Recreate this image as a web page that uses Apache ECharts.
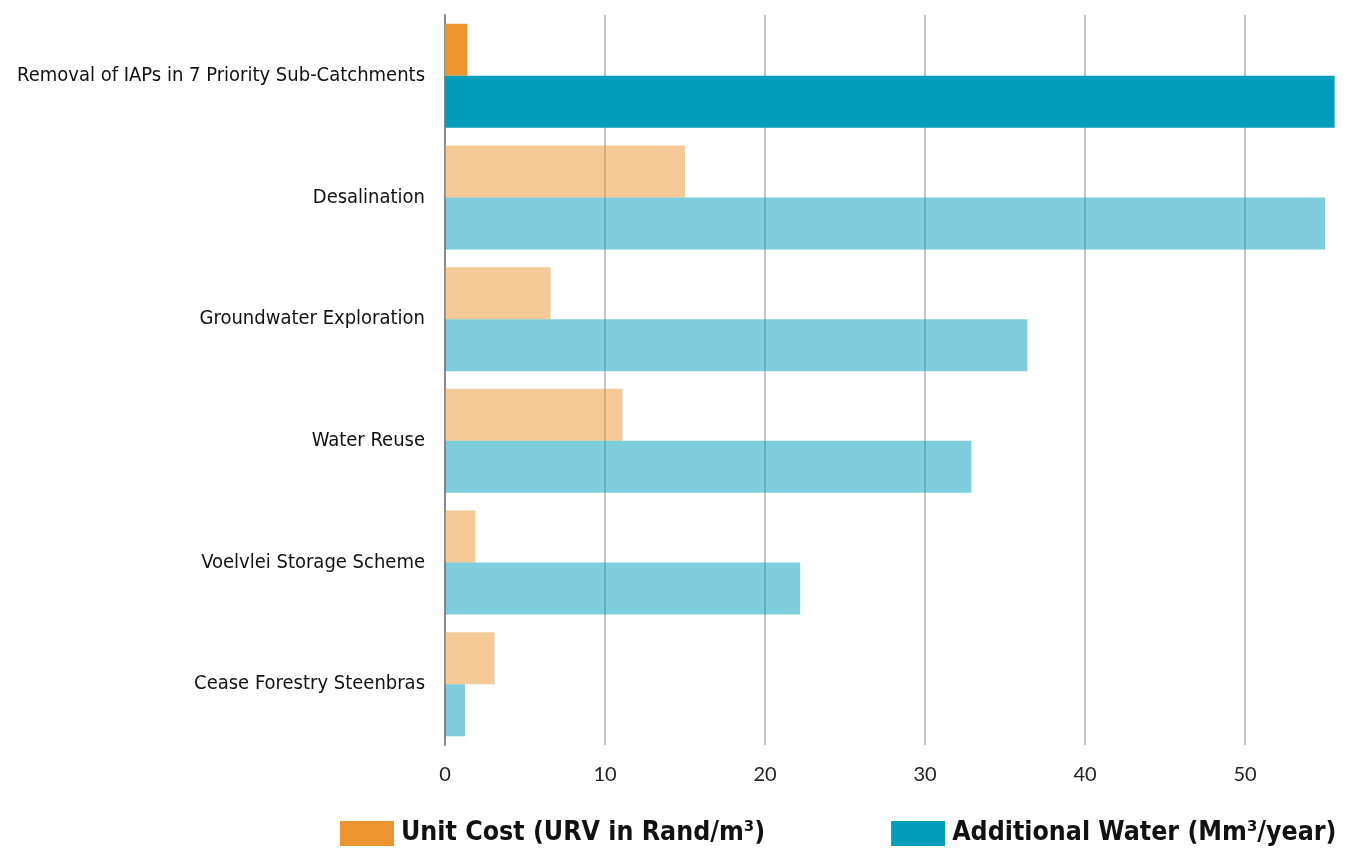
<!DOCTYPE html>
<html>
<head>
<meta charset="utf-8">
<script src="https://cdn.jsdelivr.net/npm/echarts@6/dist/echarts.min.js"></script>
<style>
  html, body { margin: 0; padding: 0; background: #fff; }
  #chart { width: 1354px; height: 851px; }
</style>
</head>
<body>
<div id="chart"></div>
<script>
const categories = [
  'Removal of IAPs in 7 Priority Sub-Catchments',
  'Desalination',
  'Groundwater Exploration',
  'Water Reuse',
  'Voelvlei Storage Scheme',
  'Cease Forestry Steenbras'
]
const unitCost = [1.4, 15.0, 6.6, 11.1, 1.9, 3.1]
const additionalWater = [55.6, 55.0, 36.4, 32.9, 22.2, 1.25]
const xTicks = [0, 10, 20, 30, 40, 50]

const orange = '#EC9530'
const blue = '#009DBC'
const narrow = "'DejaVu Sans Condensed', Lato, sans-serif"

// first row is the highlighted one, the rest are faded
const toData = (arr) => arr.map((v, i) => ({
  value: v,
  itemStyle: { opacity: i === 0 ? 1 : 0.5 }
}))

const chart = echarts.init(document.getElementById('chart'))
chart.setOption({
  animation: false,
  grid: { left: 445, right: 13, top: 15, bottom: 106, outerBoundsMode: 'none', containLabel: false },
  legend: {
    left: 335,
    top: 815,
    itemWidth: 54,
    itemHeight: 25,
    itemGap: 126,
    icon: 'rect',
    textStyle: {
      fontFamily: narrow,
      fontWeight: 'bold',
      fontSize: 26.5,
      color: '#111',
      padding: [0, 0, 0, 2]
    },
    data: ['Unit Cost (URV in Rand/m³)', 'Additional Water (Mm³/year)']
  },
  xAxis: {
    type: 'value',
    min: 0,
    max: 56,
    interval: 10,
    axisLine: { show: false },
    axisTick: { show: false },
    axisLabel: {
      fontFamily: 'Lato',
      fontSize: 20,
      color: '#222',
      margin: 20,
      showMaxLabel: false,
      formatter: (v) => xTicks.includes(v) ? String(v) : ''
    },
    splitLine: { showMaxLine: false, lineStyle: { color: '#c4c4c4', width: 2 } }
  },
  yAxis: {
    type: 'category',
    inverse: true,
    data: categories,
    axisLine: { show: true, lineStyle: { color: '#8a8a8a', width: 2 } },
    axisTick: { show: false },
    axisLabel: {
      fontFamily: narrow,
      fontSize: 20,
      color: '#111',
      margin: 20
    }
  },
  series: [
    {
      name: 'Unit Cost (URV in Rand/m³)',
      type: 'bar',
      barWidth: 52,
      barGap: '0%',
      itemStyle: { color: orange },
      data: toData(unitCost)
    },
    {
      name: 'Additional Water (Mm³/year)',
      type: 'bar',
      barWidth: 52,
      barGap: '0%',
      itemStyle: { color: blue },
      data: toData(additionalWater)
    }
  ]
})
</script>
</body>
</html>
